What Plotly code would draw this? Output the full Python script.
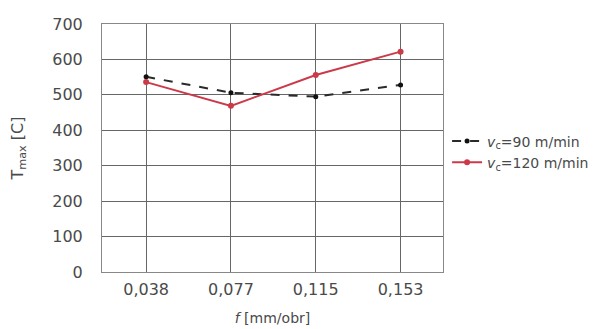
import plotly.graph_objects as go

categories = ["0,038", "0,077", "0,115", "0,153"]
v90 = [551, 506, 495, 528]
v120 = [536, 469, 556, 622]
y_ticks = [0, 100, 200, 300, 400, 500, 600, 700]

FONT = "DejaVu Sans, Liberation Sans, Arial, sans-serif"

fig = go.Figure()
fig.add_trace(go.Scatter(
    x=list(range(len(categories))), y=v90, mode="lines+markers",
    name="<i>v</i><sub>c</sub>=90 m/min",
    line=dict(color="#2a2a2a", width=2, dash="dash"),
    marker=dict(color="#111111", size=5)))
fig.add_trace(go.Scatter(
    x=list(range(len(categories))), y=v120, mode="lines+markers",
    name="<i>v</i><sub>c</sub>=120 m/min",
    line=dict(color="#cc3a4a", width=2),
    marker=dict(color="#cc3a4a", size=6)))

fig.update_layout(
    width=610, height=329,
    margin=dict(l=94, r=175, t=16, b=65, autoexpand=False),
    paper_bgcolor="white", plot_bgcolor="white",
    font=dict(family=FONT, size=14, color="#4a4a4a"),
    showlegend=True,
    legend=dict(x=1.012, y=0.484, xanchor="left", yanchor="middle",
                font=dict(size=14, color="#4a4a4a"), tracegroupgap=0,
                itemwidth=30, bgcolor="rgba(0,0,0,0)"),
    xaxis=dict(
        tickmode="array", tickvals=list(range(len(categories))), ticktext=categories,
        range=[-0.52, 3.5], showgrid=True, gridcolor="#666666", gridwidth=1,
        showline=True, linecolor="#888888", mirror=True, zeroline=False,
        ticks="", tickfont=dict(size=16), automargin=False, ticklabelstandoff=3,
        title=dict(text="<i>f</i> [mm/obr]", font=dict(size=14), standoff=14)),
    yaxis=dict(
        tickmode="array", tickvals=y_ticks, range=[0, 700],
        showgrid=True, gridcolor="#666666", gridwidth=1,
        showline=True, linecolor="#888888", mirror=True, zeroline=False,
        ticks="", tickfont=dict(size=16), automargin=False, ticklabelstandoff=15,
        title=dict(text="T<sub>max</sub> [C]", font=dict(size=16), standoff=31)),
)

fig.write_html("out.html")
